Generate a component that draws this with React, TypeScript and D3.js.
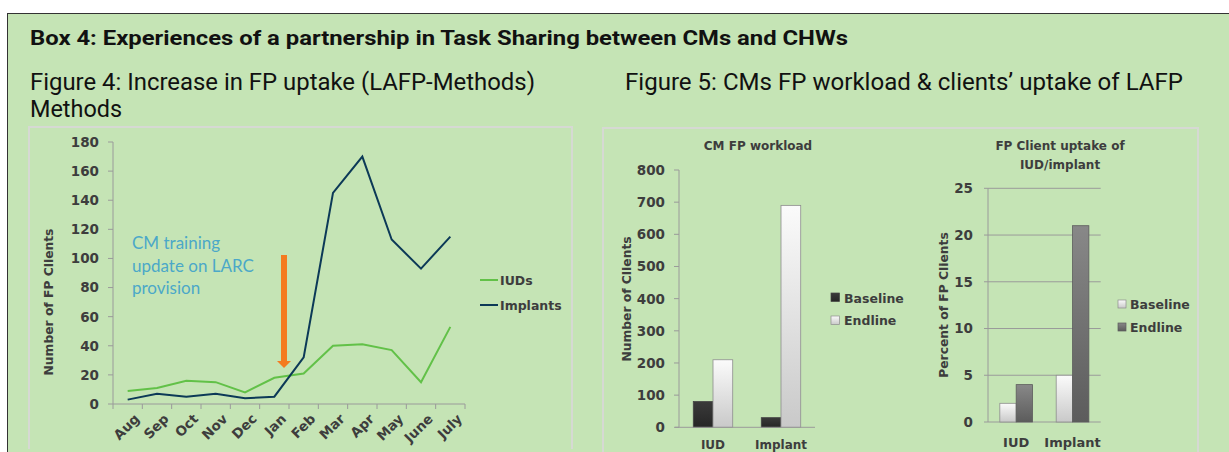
import React from "react";
import { scaleLinear, scaleBand, line } from "d3";

// figure 4 data (monthly counts)
const months = ["Aug", "Sep", "Oct", "Nov", "Dec", "Jan", "Feb", "Mar", "Apr", "May", "June", "July"];
const iuds = [9, 11, 16, 15, 8, 18, 21, 40, 41, 37, 15, 53];
const implants = [3, 7, 5, 7, 4, 5, 32, 145, 170, 113, 93, 115];
const fig4Ticks = [0, 20, 40, 60, 80, 100, 120, 140, 160, 180];

// figure 5 left: CM FP workload
const workloadCats = ["IUD", "Implant"];
const workloadBaseline = [80, 30];
const workloadEndline = [210, 690];
const workloadTicks = [0, 100, 200, 300, 400, 500, 600, 700, 800];

// figure 5 right: client uptake %
const uptakeCats = ["IUD", "Implant"];
const uptakeBaseline = [2, 5];
const uptakeEndline = [4, 21];
const uptakeTicks = [0, 5, 10, 15, 20, 25];

const BG = "#c5e4b5";
const FRAME = "#d6d9d3";
const AXIS = "#9a9a9a";
const TXT = "#3d3d3d";
const CHART_FONT = "'DejaVu Sans', Verdana, sans-serif";
const TITLE_FONT = "Roboto, 'Liberation Sans', sans-serif";

const LineChart: React.FC = () => {
  const x = scaleBand<string>().domain(months).range([113, 465]);
  const y = scaleLinear().domain([0, 180]).range([404, 142]);
  const cx = (m: string) => (x(m) as number) + x.bandwidth() / 2;

  const mk = (vals: number[]) =>
    line<number>()
      .x((_, i) => cx(months[i]))
      .y((d) => y(d))(vals) as string;

  const tickXs = months.map((m) => x(m) as number).concat([465]);

  return (
    <g fontFamily={CHART_FONT}>
      <path d="M29,449 V127 H572 V449" fill="none" stroke={FRAME} strokeWidth={2} />
      {/* y axis */}
      <line x1={113} x2={113} y1={y(180)} y2={y(0)} stroke={AXIS} />
      {fig4Ticks.map((t) => (
        <g key={t}>
          <line x1={108} x2={113} y1={y(t)} y2={y(t)} stroke={AXIS} />
          <text x={99} y={y(t)} dy="0.36em" textAnchor="end" fontSize={13.5} fontWeight="bold" fill={TXT}>
            {t}
          </text>
        </g>
      ))}
      {/* x axis */}
      <line x1={113} x2={465} y1={y(0)} y2={y(0)} stroke={AXIS} />
      {tickXs.map((t, i) => (
        <line key={i} x1={t} x2={t} y1={y(0)} y2={y(0) + 5} stroke={AXIS} />
      ))}
      {months.map((m) => (
        <text
          key={m}
          transform={`translate(${cx(m) + 6},${413}) rotate(-45)`}
          textAnchor="end"
          dy="0.7em"
          fontSize={13.5}
          fontWeight="bold"
          fill={TXT}
        >
          {m}
        </text>
      ))}
      <text
        transform="translate(53,302) rotate(-90)"
        textAnchor="middle"
        fontSize={12.3}
        fontWeight="bold"
        fill={TXT}
      >
        Number of FP Clients
      </text>

      <path d={mk(iuds)} fill="none" stroke="#62c148" strokeWidth={2} />
      <path d={mk(implants)} fill="none" stroke="#0c3957" strokeWidth={2} />

      {/* annotation */}
      <g fontFamily="Lato, 'Open Sans', sans-serif" fontSize={17} fill="#4ba8c8">
        <text x={132} y={249}>CM training</text>
        <text x={132} y={272}>update on LARC</text>
        <text x={132} y={294}>provision</text>
      </g>
      <rect x={281} y={255} width={6} height={107} fill="#f47b20" />
      <path d="M277,361 L291,361 L284,368 Z" fill="#f47b20" />

      {/* legend */}
      <line x1={480} x2={498} y1={280} y2={280} stroke="#62c148" strokeWidth={2} />
      <text x={500} y={280} dy="0.36em" fontSize={12.5} fontWeight="bold" fill={TXT}>IUDs</text>
      <line x1={480} x2={498} y1={305} y2={305} stroke="#0c3957" strokeWidth={2} />
      <text x={500} y={305} dy="0.36em" fontSize={12.5} fontWeight="bold" fill={TXT}>Implants</text>
    </g>
  );
};

const WorkloadChart: React.FC = () => {
  const x = scaleBand<string>().domain(workloadCats).range([679, 815]);
  const y = scaleLinear().domain([0, 800]).range([427.3, 170]);
  const bw = x.bandwidth() * 0.29;
  return (
    <g fontFamily={CHART_FONT}>
      <text x={758} y={146} dy="0.36em" textAnchor="middle" fontSize={12} fontWeight="bold" fill={TXT}>
        CM FP workload
      </text>
      <line x1={679} x2={679} y1={y(800)} y2={y(0)} stroke={AXIS} />
      {workloadTicks.map((t) => (
        <g key={t}>
          <line x1={674} x2={679} y1={y(t)} y2={y(t)} stroke={AXIS} />
          <text x={665} y={y(t)} dy="0.36em" textAnchor="end" fontSize={13.5} fontWeight="bold" fill={TXT}>
            {t}
          </text>
        </g>
      ))}
      {workloadCats.map((c, i) => {
        const mid = (x(c) as number) + x.bandwidth() / 2;
        return (
          <g key={c}>
            <rect x={mid - bw} y={y(workloadBaseline[i])} width={bw} height={y(0) - y(workloadBaseline[i])}
              fill="url(#darkBar)" stroke="#444" strokeWidth={0.8} />
            <rect x={mid} y={y(workloadEndline[i])} width={bw} height={y(0) - y(workloadEndline[i])}
              fill="url(#lightBar)" stroke="#8d8d8d" strokeWidth={0.8} />
            <text x={mid} y={448.5} textAnchor="middle" fontSize={12} fontWeight="bold" fill={TXT}>{c}</text>
          </g>
        );
      })}
      <line x1={675} x2={815} y1={y(0)} y2={y(0)} stroke={AXIS} />
      <text transform="translate(631,299) rotate(-90)" textAnchor="middle"
        fontSize={12.3} fontWeight="bold" fill={TXT}>
        Number of Clients
      </text>
      <rect x={831} y={293} width={8.5} height={8.5} fill="url(#darkBar)" stroke="#444" strokeWidth={0.7} />
      <text x={844} y={298} dy="0.36em" fontSize={12.5} fontWeight="bold" fill={TXT}>Baseline</text>
      <rect x={831} y={316} width={8.5} height={8.5} fill="url(#lightBar)" stroke="#8d8d8d" strokeWidth={0.7} />
      <text x={844} y={320.5} dy="0.36em" fontSize={12.5} fontWeight="bold" fill={TXT}>Endline</text>
    </g>
  );
};

const UptakeChart: React.FC = () => {
  const x = scaleBand<string>().domain(uptakeCats).range([988, 1100.7]);
  const y = scaleLinear().domain([0, 25]).range([422, 188.3]);
  const bw = x.bandwidth() * 0.29;
  return (
    <g fontFamily={CHART_FONT}>
      <text x={1060} y={146} dy="0.36em" textAnchor="middle" fontSize={12} fontWeight="bold" fill={TXT}>
        FP Client uptake of
      </text>
      <text x={1060} y={165} dy="0.36em" textAnchor="middle" fontSize={12} fontWeight="bold" fill={TXT}>
        IUD/implant
      </text>
      {uptakeTicks.map((t) => (
        <g key={t}>
          <line x1={984} x2={1100.7} y1={y(t)} y2={y(t)} stroke={AXIS} />
          <text x={973} y={y(t)} dy="0.36em" textAnchor="end" fontSize={13.5} fontWeight="bold" fill={TXT}>
            {t}
          </text>
        </g>
      ))}
      <line x1={988} x2={988} y1={y(25)} y2={y(0)} stroke={AXIS} />
      {uptakeCats.map((c, i) => {
        const mid = (x(c) as number) + x.bandwidth() / 2;
        return (
          <g key={c}>
            <rect x={mid - bw} y={y(uptakeBaseline[i])} width={bw} height={y(0) - y(uptakeBaseline[i])}
              fill="url(#lightBar)" stroke="#8d8d8d" strokeWidth={0.8} />
            <rect x={mid} y={y(uptakeEndline[i])} width={bw} height={y(0) - y(uptakeEndline[i])}
              fill="url(#greyBar)" stroke="#5d5d5d" strokeWidth={0.8} />
            <text x={mid} y={442} dy="0.36em" textAnchor="middle" fontSize={13} fontWeight="bold" fill={TXT}>{c}</text>
          </g>
        );
      })}
      <text transform="translate(948,305) rotate(-90)" textAnchor="middle"
        fontSize={12.3} fontWeight="bold" fill={TXT}>
        Percent of FP Clients
      </text>
      <rect x={1118} y={300} width={8} height={8} fill="url(#lightBar)" stroke="#8d8d8d" strokeWidth={0.7} />
      <text x={1130} y={304} dy="0.36em" fontSize={12.5} fontWeight="bold" fill={TXT}>Baseline</text>
      <rect x={1118} y={323} width={8} height={8} fill="url(#greyBar)" stroke="#5d5d5d" strokeWidth={0.7} />
      <text x={1130} y={327} dy="0.36em" fontSize={12.5} fontWeight="bold" fill={TXT}>Endline</text>
    </g>
  );
};

export default function App() {
  return (
    <svg width={1229} height={452} style={{ position: "absolute", left: 0, top: 0 }}>
      <defs>
        <linearGradient id="lightBar" x1="0" y1="0" x2="0" y2="1">
          <stop offset="0" stopColor="#fbfbfb" />
          <stop offset="1" stopColor="#c9c9c9" />
        </linearGradient>
        <linearGradient id="darkBar" x1="0" y1="0" x2="0" y2="1">
          <stop offset="0" stopColor="#3a3a3a" />
          <stop offset="1" stopColor="#262626" />
        </linearGradient>
        <linearGradient id="greyBar" x1="0" y1="0" x2="0" y2="1">
          <stop offset="0" stopColor="#888888" />
          <stop offset="1" stopColor="#5c5c5c" />
        </linearGradient>
      </defs>
      <rect x={0} y={0} width={1229} height={452} fill="#fff" />
      <rect x={7.5} y={13.5} width={1240} height={460} fill={BG} stroke="#333" />

      <text x={30} y={45} fontFamily={TITLE_FONT} fontWeight="bold" fontSize={20} fill="#111"
        textLength={818} lengthAdjust="spacingAndGlyphs">
        Box 4: Experiences of a partnership in Task Sharing between CMs and CHWs
      </text>
      <g fontFamily={TITLE_FONT} fontSize={23} fill="#111">
        <text x={30} y={90} textLength={505} lengthAdjust="spacingAndGlyphs">
          Figure 4: Increase in FP uptake (LAFP-Methods)
        </text>
        <text x={30} y={117} textLength={92} lengthAdjust="spacingAndGlyphs">Methods</text>
        <text x={625} y={90} textLength={558} lengthAdjust="spacingAndGlyphs">
          Figure 5: CMs FP workload &amp; clients’ uptake of LAFP
        </text>
      </g>

      <LineChart />
      <path d="M603,470 V128 H1198 V470" fill="none" stroke={FRAME} strokeWidth={2} />
      <WorkloadChart />
      <UptakeChart />
    </svg>
  );
}
